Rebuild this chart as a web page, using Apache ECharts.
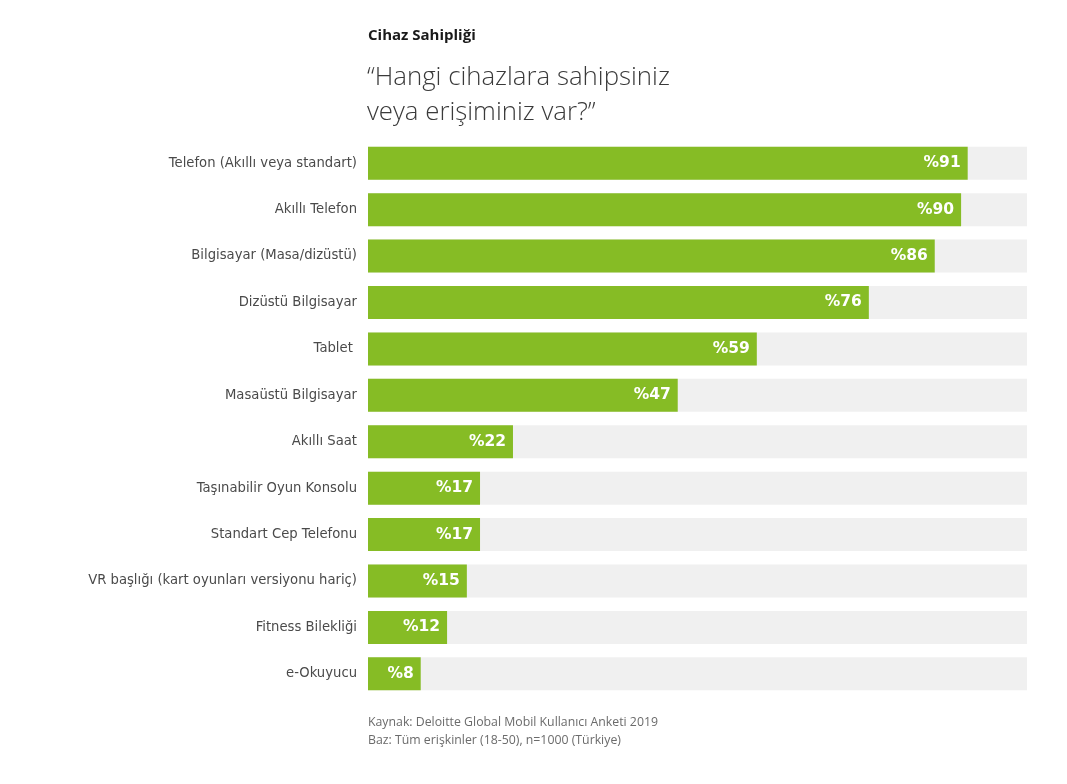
<!DOCTYPE html>
<html><head><meta charset="utf-8">
<script src="https://cdn.jsdelivr.net/npm/echarts@6/dist/echarts.min.js"></script>
<style>html,body{margin:0;padding:0;background:#fff}#c{width:1067px;height:784px}</style>
</head><body><div id="c"></div>
<script>
const categories = ["Telefon (Akıllı veya standart)","Akıllı Telefon","Bilgisayar (Masa/dizüstü)","Dizüstü Bilgisayar","Tablet ","Masaüstü Bilgisayar","Akıllı Saat","Taşınabilir Oyun Konsolu","Standart Cep Telefonu","VR başlığı (kart oyunları versiyonu hariç)","Fitness Bilekliği","e-Okuyucu"];
const values = [91,90,86,76,59,47,22,17,17,15,12,8];
const titleText = "Cihaz Sahipliği";
const subtitleText = "“Hangi cihazlara sahipsiniz\nveya erişiminiz var?”";
const footerText = "Kaynak: Deloitte Global Mobil Kullanıcı Anketi 2019\nBaz: Tüm erişkinler (18-50), n=1000 (Türkiye)";

const chart = echarts.init(document.getElementById('c'));
chart.setOption({
  animation:false,
  title:[
    {text:titleText,left:363,top:23,textStyle:{fontFamily:'Open Sans',fontWeight:'bold',fontSize:15,color:'#1a1a1a'}},
    {text:subtitleText,left:362,top:55,textStyle:{fontFamily:'Open Sans',fontWeight:300,fontSize:25.8,lineHeight:35,color:'#3a3a3a'}},
    {text:footerText,left:363,top:708,textStyle:{fontFamily:'Open Sans',fontWeight:'normal',fontSize:12.3,lineHeight:18,color:'#6b6b6b'}}
  ],
  grid:{left:368,right:40,top:140,bottom:87,containLabel:false},
  xAxis:{type:'value',min:0,max:100,show:false},
  yAxis:{type:'category',data:categories,inverse:true,
    axisLine:{show:false},axisTick:{show:false},
    axisLabel:{margin:11,fontFamily:'DejaVu Sans',fontSize:13.2,color:'#4a4a4a'}},
  series:[{type:'bar',data:values,barWidth:33,
    showBackground:true,backgroundStyle:{color:'#f0f0f0'},
    itemStyle:{color:'#86bc25'},
    label:{show:true,position:'insideRight',distance:7,formatter:p=>'%'+p.value,
      fontFamily:'DejaVu Sans',fontWeight:'bold',fontSize:15.5,color:'#ffffff'}}]
});
</script></body></html>
